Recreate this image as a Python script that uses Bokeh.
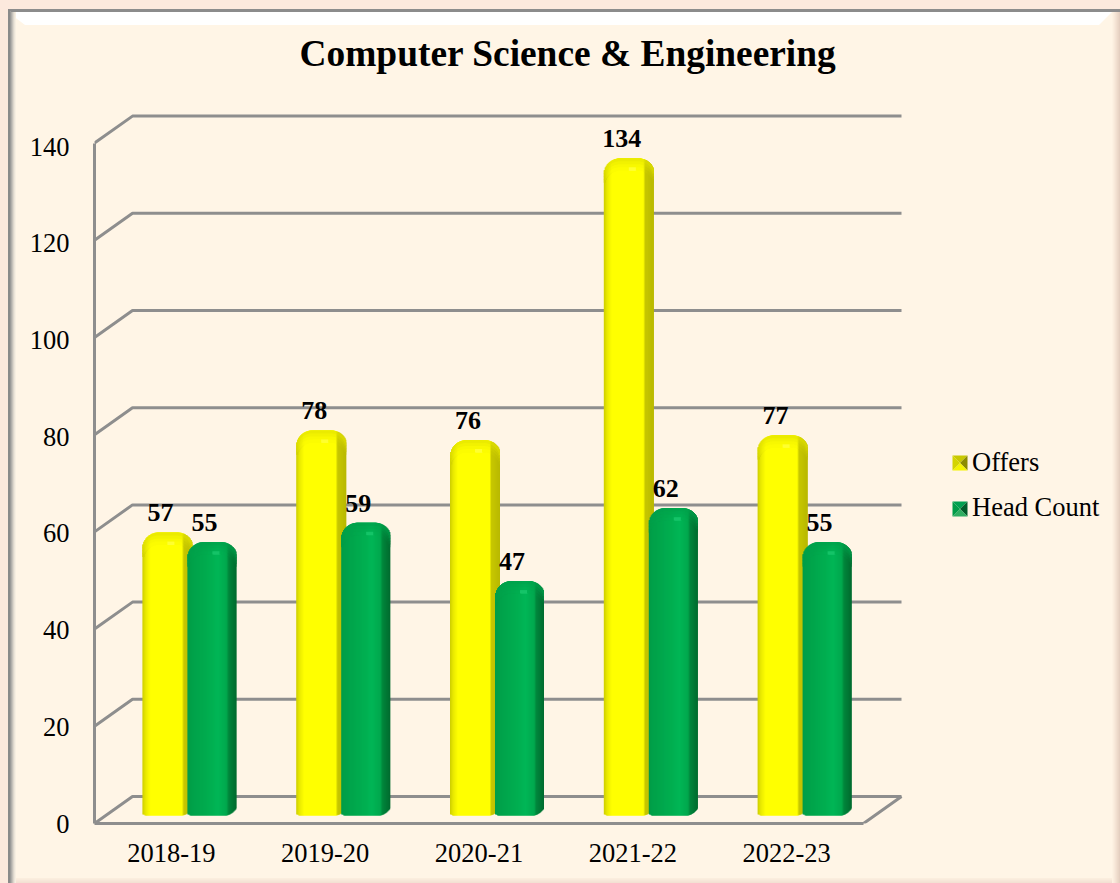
from urllib.parse import quote
from bokeh.plotting import figure
from bokeh.embed import file_html
from bokeh.resources import INLINE
from bokeh.core.properties import value
from bokeh.models import (ColumnDataSource, FixedTicker, Legend, LegendItem,
                          PolyAnnotation, Range1d)

categories = ["2018-19", "2019-20", "2020-21", "2021-22", "2022-23"]
offers = [57, 78, 76, 134, 77]
head_count = [55, 59, 47, 62, 55]
y_ticks = [0, 20, 40, 60, 80, 100, 120, 140]
title = "Computer Science & Engineering"
FONT = "Liberation Serif"

W, H = 1120, 883
PX_X = 153.8      # pixels per category
PX_Y = 4.86       # pixels per unit
LEFT, ZERO, TOP = 94, 823, 92   # canvas px: axis, y=0, frame top
GREY = "#8e8e8e"
LABEL_SCALE = 139.3 / 140  # y tick labels are spaced a little tighter than the gridlines

x_end = (W - LEFT) / PX_X
y_end = (ZERO - TOP) / PX_Y


# panel bevel, as a page background behind the transparent figure
def poly(pts, color):
    return "<polygon points='%s' fill='%s'/>" % (" ".join("%g,%g" % q for q in pts), color)


shapes = [poly([(0, 0), (W, 0), (W, H), (0, H)], "#fce9dd"),
          poly([(8, 9), (W, 9), (W, H), (8, H)], "#fff5e6"),
          poly([(8, 9), (W, 9), (W, 12), (8, 12)], "#8c8c8c"),
          poly([(8, 12), (W - 8, 12), (W - 21, 25), (25, 25)], "#ffffff")]
for i, c in enumerate(["#8a8a8a", "#8a8a8a", "#9a9a98", "#b0aeaa", "#c6c2bb", "#dcd6cc", "#ece5d9", "#f7efe2"]):
    shapes.append(poly([(8 + i, 9 + min(i, 3)), (9 + i, 9 + min(i, 3)), (9 + i, H), (8 + i, H)], c))
for i, c in enumerate(["#fbeede", "#f9ebdc", "#f7e7d9", "#f5e4d6", "#f3e1d3"]):
    shapes.append(poly([(16, H - 5 + i), (W - 8, H - 5 + i), (W - 8, H - 4 + i), (16, H - 4 + i)], c))
for i, c in enumerate(["#fdf2e3", "#fbeede", "#f8e9da", "#f5e4d5", "#f1dfd0", "#eddaca", "#e9d5c6", "#e4cfc0"]):
    shapes.append(poly([(W - 8 + i, 12), (W - 7 + i, 12), (W - 7 + i, H), (W - 8 + i, H)], c))
svg_bg = ("<svg xmlns='http://www.w3.org/2000/svg' width='%d' height='%d'>%s</svg>"
          % (W, H, "".join(shapes)))

p = figure(width=W, height=H, output_backend="svg", toolbar_location=None,
           x_range=Range1d(0, x_end), y_range=Range1d(0, y_end),
           min_border_left=LEFT, min_border_right=0,
           min_border_top=TOP, min_border_bottom=H - ZERO,
           background_fill_color=None, border_fill_color=None,
           outline_line_color=None, title=title,
           styles={"background-image": 'url("data:image/svg+xml,%s")' % quote(svg_bg),
                   "background-repeat": "no-repeat"})
p.grid.visible = False
p.title.text_font = FONT
p.title.text_font_size = "37.4px"
p.title.text_font_style = "bold"
p.title.text_color = "#000000"
p.title.align = "left"
p.title.offset = 205
p.title.standoff = 37

# back wall, side wall and floor
dx, dy = 38 / PX_X, 27 / PX_Y
for t in y_ticks:
    p.line([0, dx, 5 + dx], [t, t + dy, t + dy], line_color=GREY, line_width=3)
p.line([0, 5, 5 + dx], [0, 0, dy], line_color=GREY, line_width=3)


def hex2rgb(c):
    return tuple(int(c[i:i + 2], 16) for i in (1, 3, 5))


def mix(a, b, t):
    ra, rb = hex2rgb(a), hex2rgb(b)
    return "#%02x%02x%02x" % tuple(round(u + (v - u) * t) for u, v in zip(ra, rb))


def shade(stops, u):
    for (u0, c0), (u1, c1) in zip(stops, stops[1:]):
        if u <= u1:
            return mix(c0, c1, (u - u0) / (u1 - u0))
    return stops[-1][1]


Y_STOPS = [(0, "#cccc00"), (.06, "#e8e800"), (.16, "#ffff00"), (.80, "#ffff00"),
           (.82, "#c8c800"), (1, "#b8b800")]
G_STOPS = [(0, "#009c47"), (.12, "#00a24a"), (.45, "#00ae50"), (.62, "#00b656"),
           (.80, "#00a84d"), (.84, "#00873c"), (1, "#006a2e")]
Y_CAP, G_CAP = "#e2e200", "#00a04b"
Y_SPOT, G_SPOT = "#ffff30", "#14c468"


def draw_bar(values, x0_px, x1_px, stops, cap, spot):
    n = int(x1_px - x0_px)
    data = dict(l=[], r=[], t=[], b=[], c=[])
    caps = dict(l=[], r=[], t=[], b=[], c=[])
    rad = 16.0
    for i, v in enumerate(values):
        cx = (i + .5) * PX_X
        for s in range(n):
            u = (s + .5) / n
            px = s + .5
            d = min(px, n - px)
            drop = 0.0
            if d < rad:
                drop = rad - (rad * rad - (rad - d) ** 2) ** .5
            rise = 0.0
            if px > n - 12:
                rise = ((px - (n - 12)) / 12) ** 2 * 8
            elif px < 2:
                rise = 1.0
            top_px = v * PX_Y + 14 - drop
            bot_px = 8 + rise
            col = shade(stops, u)
            left = (cx + x0_px + s) / PX_X
            # overlap the next strip by more than a pixel so no background shows between
            right = (cx + min(x0_px + s + 2.2, x1_px)) / PX_X
            data["l"].append(left)
            data["r"].append(right)
            data["t"].append(top_px / PX_Y)
            data["b"].append(bot_px / PX_Y)
            data["c"].append(col)
            for k, a in enumerate((.7, .45, .25, .1)):
                caps["l"].append(left)
                caps["r"].append(right)
                caps["t"].append((top_px - k * 3) / PX_Y)
                caps["b"].append((top_px - k * 3 - 3.4) / PX_Y)
                if k == 3 and abs(u - .58) < .07:
                    caps["c"].append(spot)
                else:
                    caps["c"].append(mix(col, cap, a))
    p.quad(left="l", right="r", top="t", bottom="b", fill_color="c", line_color=None,
           source=ColumnDataSource(data))
    p.quad(left="l", right="r", top="t", bottom="b", fill_color="c", line_color=None,
           source=ColumnDataSource(caps))


draw_bar(offers, -29, 21, Y_STOPS, Y_CAP, Y_SPOT)
draw_bar(head_count, 16, 65, G_STOPS, G_CAP, G_SPOT)

# data labels
lab_x = [i + .5 - 11 / PX_X for i in range(5)] + [i + .5 + 33 / PX_X for i in range(5)]
p.text(x=lab_x, y=offers + head_count, text=[str(v) for v in offers + head_count],
       text_font=value(FONT), text_font_size="26px", text_font_style="bold",
       text_align="center", text_baseline="middle", y_offset=-33.5, text_color="#000000")

# axes
for ax, bounds in ((p.yaxis[0], (0, 140)), (p.xaxis[0], (0, 5))):
    ax.bounds = bounds
    ax.axis_line_color = GREY
    ax.axis_line_width = 3
    ax.major_tick_line_color = None
    ax.minor_tick_line_color = None
    ax.major_label_text_font = FONT
    ax.major_label_text_font_size = "26.5px"
    ax.major_label_text_color = "#000000"
y_tick_pos = [t * LABEL_SCALE for t in y_ticks]
p.yaxis[0].ticker = FixedTicker(ticks=y_tick_pos)
p.yaxis[0].major_label_overrides = {q: str(t) for q, t in zip(y_tick_pos, y_ticks)}
p.yaxis[0].major_label_standoff = 19
p.xaxis[0].ticker = FixedTicker(ticks=[i + .5 for i in range(5)])
p.xaxis[0].major_label_overrides = {i + .5: c for i, c in enumerate(categories)}
p.xaxis[0].major_label_standoff = 14

# legend
k1 = p.quad(left=[], right=[], top=[], bottom=[], fill_color="#ffff00", line_color=None)
k2 = p.quad(left=[], right=[], top=[], bottom=[], fill_color="#00b050", line_color=None)
legend = Legend(items=[LegendItem(label="Offers", renderers=[k1]),
                       LegendItem(label="Head Count", renderers=[k2])],
                location=(952 - LEFT, ZERO - 523), margin=0, padding=0,
                glyph_width=15, glyph_height=15, label_standoff=5, spacing=14,
                label_height=30, label_text_font=FONT, label_text_font_size="26.5px",
                label_text_color="#000000", background_fill_alpha=0, border_line_color=None)
p.add_layout(legend, "center")


def key(x, y, cols):
    s = 15
    c = (x + s / 2, y + s / 2)
    tl, tr, br, bl = (x, y), (x + s, y), (x + s, y + s), (x, y + s)
    for (a, b), col in zip(((tl, tr), (tr, br), (br, bl), (bl, tl)), cols):
        p.add_layout(PolyAnnotation(xs=[a[0], b[0], c[0]], ys=[a[1], b[1], c[1]],
                                    xs_units="canvas", ys_units="canvas",
                                    fill_color=col, fill_alpha=1, line_color=None, level="overlay"))


key(952, 455, ["#c8c800", "#8c8c00", "#f4f400", "#d4d400"])
key(952, 501, ["#00a050", "#005c2a", "#2fae62", "#009c48"])

open("out.html", "w").write(file_html(p, INLINE))
